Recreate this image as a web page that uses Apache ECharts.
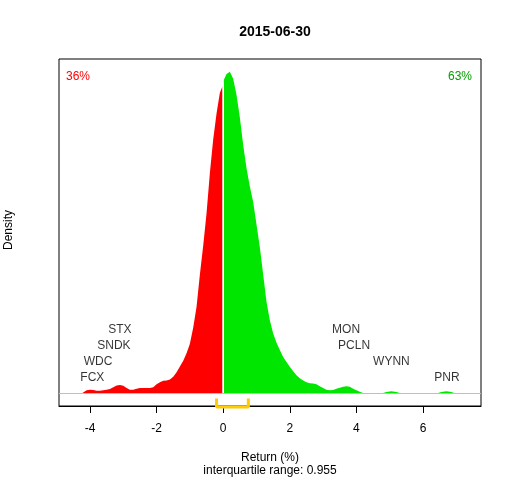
<!DOCTYPE html>
<html>
<head>
<meta charset="utf-8">
<script src="https://cdn.jsdelivr.net/npm/echarts@6/dist/echarts.min.js"></script>
<style>
html,body{margin:0;padding:0;background:#fff;}
#main{width:512px;height:480px;}
</style>
</head>
<body>
<div id="main"></div>
<script>
// density of returns, scaled so the peak is 1 (the y axis carries no labels)
var negX=[-4.25,-4.2,-4.1,-4.0,-3.9,-3.8,-3.7,-3.6,-3.5,-3.4,-3.3,-3.2,-3.1,-3.0,-2.9,-2.8,-2.7,-2.6,-2.5,-2.4,-2.3,-2.2,-2.1,-2.0,-1.9,-1.8,-1.7,-1.6,-1.5,-1.4,-1.3,-1.2,-1.1,-1.0,-0.9,-0.8,-0.7,-0.6,-0.5,-0.4,-0.3,-0.2,-0.1,-0.02];
var negY=[0,0.006,0.01,0.012,0.011,0.009,0.009,0.01,0.012,0.014,0.02,0.025,0.027,0.024,0.017,0.012,0.012,0.015,0.017,0.017,0.017,0.017,0.02,0.029,0.035,0.04,0.041,0.044,0.052,0.066,0.084,0.102,0.125,0.155,0.205,0.27,0.37,0.46,0.56,0.685,0.79,0.87,0.935,0.955];
var posX=[0.02,0.1,0.2,0.3,0.4,0.5,0.6,0.7,0.8,0.9,1.0,1.1,1.2,1.3,1.4,1.5,1.6,1.7,1.8,1.9,2.0,2.1,2.2,2.3,2.4,2.5,2.6,2.7,2.8,2.9,3.0,3.1,3.2,3.3,3.4,3.5,3.6,3.7,3.8,3.9,4.0,4.1,4.2,4.25,4.5,4.75,4.9,5.05,5.2,5.35,5.8,6.4,6.55,6.7,6.85,6.98];
var posY=[0.975,0.993,1.0,0.978,0.928,0.858,0.772,0.70,0.643,0.595,0.525,0.455,0.37,0.285,0.228,0.187,0.158,0.135,0.114,0.098,0.083,0.069,0.057,0.048,0.041,0.035,0.032,0.031,0.029,0.023,0.017,0.012,0.01,0.011,0.015,0.018,0.021,0.023,0.021,0.015,0.01,0.006,0.002,0,null,0,0.005,0.007,0.005,0,null,0,0.005,0.007,0.005,0];
var density0=0.965;
var tickers=['FCX','WDC','SNDK','STX','MON','PCLN','WYNN','PNR'];
var tickerX=[-3.93,-3.76,-3.28,-3.1,3.69,3.93,5.05,6.72];
var tickerLevel=[0.05,0.10,0.15,0.20,0.20,0.15,0.10,0.05];
var xTicks=[-4,-2,0,2,4,6];
var q1=-0.2, q3=0.755;
var pctDown='36%', pctUp='63%';

function pairs(xs,ys){
	var out=[];
	for(var i=0;i<xs.length;i++){
		out.push([xs[i], ys[i]===null ? '-' : ys[i]]);
	}
	return out;
}
var labelData=[];
for(var i=0;i<tickers.length;i++){
	labelData.push({name:tickers[i], value:[tickerX[i], tickerLevel[i]]});
}

var font='"Liberation Sans", Arial, sans-serif';
var myChart=echarts.init(document.getElementById('main'));
var option={
	animation:false,
	backgroundColor:'#fff',
	title:{
		text:'2015-06-30',
		left:270,
		textAlign:'center',
		top:20,
		textStyle:{fontFamily:font,fontSize:14,fontWeight:'bold',color:'#000'}
	},
	grid:{
		left:59, right:31, top:59, bottom:74,
		show:true, borderColor:'#000', borderWidth:1, backgroundColor:'transparent'
	},
	xAxis:{
		type:'value',
		min:-4.93,
		max:7.74,
		splitLine:{show:false},
		axisLine:{show:true, onZero:false, lineStyle:{color:'#000',width:1}},
		axisTick:{show:true, length:7, customValues:xTicks, lineStyle:{color:'#000'}},
		axisLabel:{customValues:xTicks, margin:17, color:'#000', fontFamily:font, fontSize:12}
	},
	yAxis:{
		type:'value',
		min:-0.0386,
		max:1.0395,
		show:false,
		splitLine:{show:false}
	},
	graphic:[
		{type:'text', left:66, top:71, style:{text:pctDown, fill:'#ff0000', font:'12px '+font}},
		{type:'text', right:40, top:71, style:{text:pctUp, fill:'#00a000', font:'12px '+font}},
		{type:'text', x:270, y:458, style:{text:'Return (%)', fill:'#000', font:'12px '+font, align:'center', verticalAlign:'middle'}},
		{type:'text', x:270, y:471, style:{text:'interquartile range: 0.955', fill:'#000', font:'12px '+font, align:'center', verticalAlign:'middle'}},
		{type:'text', x:9, y:230, rotation:Math.PI/2, style:{text:'Density', fill:'#000', font:'12px '+font, align:'center', verticalAlign:'middle'}}
	],
	series:[
		{
			type:'line',
			data:[],
			silent:true,
			markLine:{
				silent:true, symbol:'none', label:{show:false},
				lineStyle:{color:'#bebebe', width:1, type:'solid'},
				data:[{yAxis:0}]
			},
			z:1
		},
		{
			type:'line',
			data:pairs(negX,negY),
			showSymbol:false,
			lineStyle:{width:0},
			areaStyle:{color:'#ff0000', opacity:1},
			z:2
		},
		{
			type:'line',
			data:pairs(posX,posY),
			showSymbol:false,
			connectNulls:false,
			lineStyle:{width:0},
			areaStyle:{color:'#00e600', opacity:1},
			z:2
		},
		{
			type:'line',
			data:[[0,0],[0,density0]],
			showSymbol:false,
			lineStyle:{color:'#fff', width:1.5},
			z:3
		},
		{
			type:'line',
			data:[[q1,-0.0156],[q1,-0.0417],[q3,-0.0417],[q3,-0.0156]],
			showSymbol:false,
			clip:false,
			lineStyle:{color:'#ffcc00', width:3},
			z:4
		},
		{
			type:'scatter',
			data:labelData,
			symbolSize:0,
			label:{
				show:true, position:'inside', formatter:'{b}',
				color:'#000', fontFamily:font, fontSize:12
			},
			z:5
		}
	]
};
myChart.setOption(option);
</script>
</body>
</html>
